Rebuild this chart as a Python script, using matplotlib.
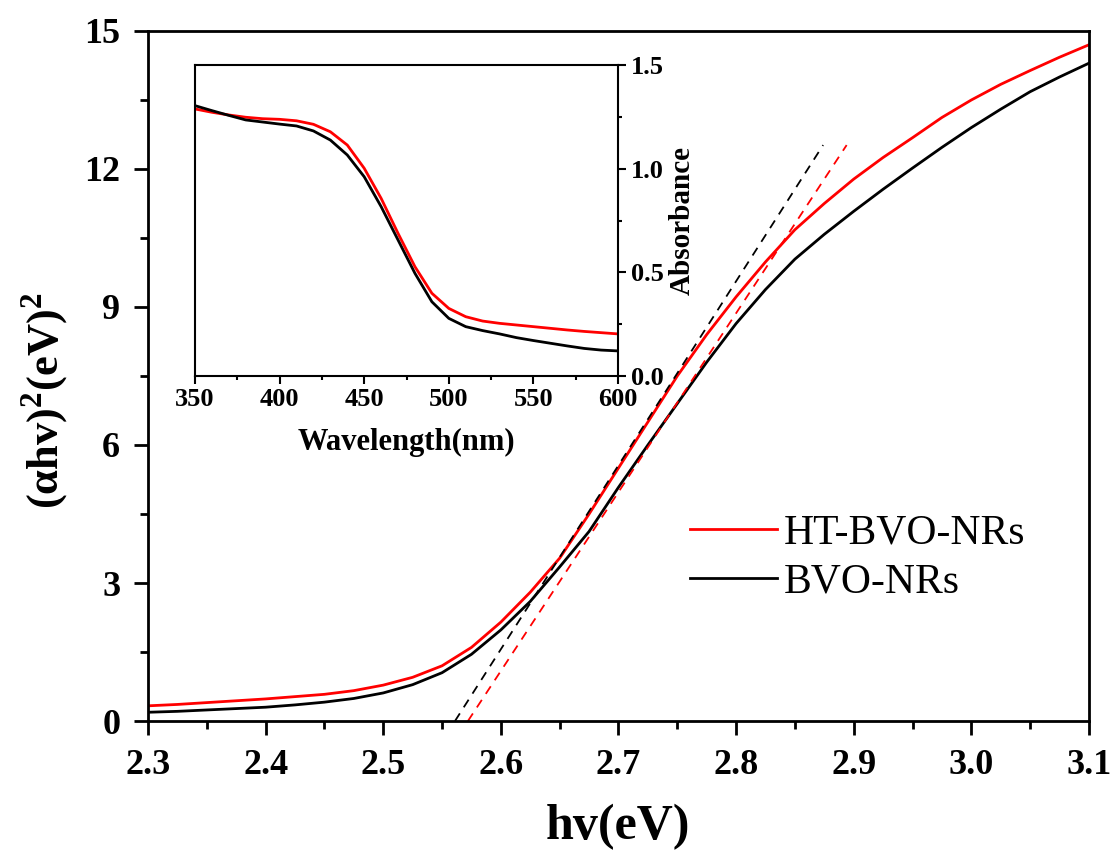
import matplotlib
matplotlib.use('Agg')
import matplotlib.pyplot as plt
from matplotlib.ticker import MultipleLocator

plt.rcParams['font.family'] = ['Liberation Serif', 'DejaVu Serif']
plt.rcParams['mathtext.fontset'] = 'custom'
plt.rcParams['mathtext.rm'] = 'Liberation Serif'
plt.rcParams['mathtext.bf'] = 'Liberation Serif:bold'

# Tauc plot data
hv = [2.300, 2.325, 2.350, 2.375, 2.400, 2.425, 2.450, 2.475, 2.500, 2.525, 2.550,
      2.575, 2.600, 2.625, 2.650, 2.675, 2.700, 2.725, 2.750, 2.775, 2.800, 2.825,
      2.850, 2.875, 2.900, 2.925, 2.950, 2.975, 3.000, 3.025, 3.050, 3.075, 3.100]
tauc_ht = [0.33, 0.36, 0.40, 0.44, 0.48, 0.53, 0.58, 0.66, 0.78, 0.95, 1.20,
           1.60, 2.15, 2.80, 3.54, 4.50, 5.50, 6.50, 7.50, 8.40, 9.22, 9.98,
           10.68, 11.25, 11.78, 12.25, 12.68, 13.12, 13.50, 13.84, 14.14, 14.43, 14.70]
tauc_bvo = [0.19, 0.21, 0.24, 0.27, 0.30, 0.35, 0.41, 0.49, 0.61, 0.79, 1.05,
            1.45, 1.98, 2.60, 3.35, 4.12, 5.08, 6.00, 6.90, 7.80, 8.64, 9.38,
            10.04, 10.58, 11.08, 11.56, 12.02, 12.47, 12.90, 13.30, 13.68, 14.00, 14.30]

# tangent (linear fit) lines: intercept with x axis and upper end
fit_ht_x = [2.572, 2.894]
fit_ht_y = [0.0, 12.52]
fit_bvo_x = [2.561, 2.874]
fit_bvo_y = [0.0, 12.52]

# UV-vis absorbance (inset)
wl = [350, 360, 370, 380, 390, 400, 410, 420, 430, 440, 450, 460, 470,
      480, 490, 500, 510, 520, 530, 540, 550, 560, 570, 580, 590, 600]
abs_ht = [1.288, 1.272, 1.259, 1.248, 1.241, 1.238, 1.231, 1.214, 1.178, 1.114, 1.002,
          0.857, 0.688, 0.527, 0.399, 0.326, 0.286, 0.265, 0.254, 0.246, 0.238,
          0.230, 0.222, 0.215, 0.209, 0.203]
abs_bvo = [1.304, 1.280, 1.257, 1.235, 1.225, 1.215, 1.206, 1.182, 1.138, 1.066, 0.961,
           0.817, 0.656, 0.495, 0.358, 0.278, 0.238, 0.219, 0.203, 0.185, 0.171,
           0.158, 0.145, 0.133, 0.125, 0.121]

fig = plt.figure(figsize=(11.18, 8.61), dpi=100)
ax = fig.add_axes([0.1324, 0.1626, 0.8416, 0.8014])

ax.plot(hv, tauc_ht, color='red', lw=2, label='HT-BVO-NRs')
ax.plot(hv, tauc_bvo, color='black', lw=2, label='BVO-NRs')
ax.plot(fit_ht_x, fit_ht_y, color='red', lw=1.3, ls=(0, (5, 4)))
ax.plot(fit_bvo_x, fit_bvo_y, color='black', lw=1.3, ls=(0, (5, 4)))

ax.set_xlim(2.3, 3.1)
ax.set_ylim(0, 15)
ax.xaxis.set_major_locator(MultipleLocator(0.1))
ax.xaxis.set_minor_locator(MultipleLocator(0.05))
ax.yaxis.set_major_locator(MultipleLocator(3))
ax.yaxis.set_minor_locator(MultipleLocator(1.5))
ax.tick_params(which='major', direction='out', length=10, width=2, labelsize=26, pad=10)
ax.tick_params(which='minor', direction='out', length=6, width=2)
for lab in ax.get_xticklabels() + ax.get_yticklabels():
    lab.set_fontweight('bold')
for sp in ax.spines.values():
    sp.set_linewidth(2)

ax.set_xlabel('hv(eV)', fontsize=36, fontweight='bold', labelpad=16)
ax.set_ylabel(r'(αhv)$^{\mathbf{2}}$(eV)$^{\mathbf{2}}$', fontsize=32, fontweight='bold')
ax.yaxis.set_label_coords(-0.082, 0.464)

leg = ax.legend(loc='center left', bbox_to_anchor=(0.576, 0.236), frameon=False,
                fontsize=30, handlelength=2.1, handletextpad=0.15, labelspacing=0.25,
                borderpad=0, borderaxespad=0)

# inset
axi = fig.add_axes([0.1744, 0.5633, 0.3784, 0.3612])
axi.plot(wl, abs_ht, color='red', lw=2)
axi.plot(wl, abs_bvo, color='black', lw=2)
axi.set_xlim(350, 600)
axi.set_ylim(0, 1.5)
axi.xaxis.set_major_locator(MultipleLocator(50))
axi.xaxis.set_minor_locator(MultipleLocator(25))
axi.yaxis.set_major_locator(MultipleLocator(0.5))
axi.yaxis.set_minor_locator(MultipleLocator(0.25))
axi.yaxis.tick_right()
axi.yaxis.set_label_position('right')
axi.tick_params(which='major', direction='out', length=6, width=1.5, labelsize=19, pad=3)
axi.tick_params(which='minor', direction='out', length=3, width=1.5)
for lab in axi.get_xticklabels() + axi.get_yticklabels():
    lab.set_fontweight('bold')
for sp in axi.spines.values():
    sp.set_linewidth(1.5)
axi.set_xlabel('Wavelength(nm)', fontsize=22, fontweight='bold', labelpad=12)
axi.set_ylabel('Absorbance', fontsize=21, fontweight='bold', labelpad=4)

fig.savefig('out.png', dpi=100)
